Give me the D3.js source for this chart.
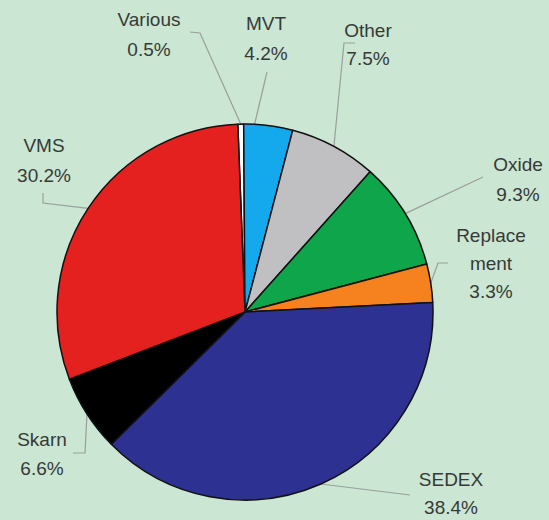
<!DOCTYPE html>
<html>
<head>
<meta charset="utf-8">
<script src="https://cdn.jsdelivr.net/npm/d3@7"></script>
<style>
html,body{margin:0;padding:0;background:#cbe6d3;}
svg{display:block;}
</style>
</head>
<body>
<svg id="chart" width="549" height="520"></svg>
<script>
// ---- data ----
const categories = ["Various", "MVT", "Other", "Oxide", "Replacement", "SEDEX", "Skarn", "VMS"];
const values = [0.5, 4.2, 7.5, 9.3, 3.3, 38.4, 6.6, 30.2];
const labelLines = [["Various","0.5%"],["MVT","4.2%"],["Other","7.5%"],["Oxide","9.3%"],["Replace","ment","3.3%"],["SEDEX","38.4%"],["Skarn","6.6%"],["VMS","30.2%"]];

// ---- styles / layout ----
const colors = ["#ffffff", "#14a9ec", "#c0c0c2", "#0ea54b", "#f5821f", "#2c3192", "#000000", "#e4211f"];
const cx = 245, cy = 312, R = 188;
const startDeg = -2.2;
const layout = [
  {x:149, y:[26,56], pts:[[190,32],[200,33]], frac:0.5},
  {x:266, y:[30,60], pts:[[267,72]], frac:0.22},
  {x:368, y:[37,65], pts:[[355,43],[344,43]], frac:0.5},
  {x:518, y:[171,201], pts:[[483,177]], frac:0.5},
  {x:491, y:[242,270,298], pts:[[448,263],[438,263]], frac:0.5},
  {x:451, y:[486,514], pts:[[410,495]], frac:0.5},
  {x:42, y:[446,475], pts:[[73,453],[85,453]], frac:0.5},
  {x:44, y:[152,182], pts:[[43,193],[43,203]], frac:0.5}
];

const svg = d3.select("#chart");
const rad = d => d * Math.PI / 180;

const pie = d3.pie().sort(null).value(d => d.v)
  .startAngle(rad(startDeg)).endAngle(rad(startDeg) + 2 * Math.PI);
const arcs = pie(values.map((v, i) => ({v, i})));
const arc = d3.arc().innerRadius(0).outerRadius(R);

// leader lines
const gl = svg.append("g");
arcs.forEach((a, i) => {
  const L = layout[i];
  const ang = a.startAngle + (a.endAngle - a.startAngle) * L.frac;
  const edge = [cx + R * Math.sin(ang), cy - R * Math.cos(ang)];
  const pts = L.pts.concat([edge]);
  gl.append("path")
    .attr("d", d3.line()(pts))
    .attr("fill", "none")
    .attr("stroke", "#9a9f9b")
    .attr("stroke-width", 1.2);
});

// slices
svg.append("g").attr("transform", `translate(${cx},${cy})`)
  .selectAll("path").data(arcs).join("path")
  .attr("d", arc)
  .attr("fill", d => colors[d.data.i])
  .attr("stroke", "#111")
  .attr("stroke-width", 1.5)
  .attr("stroke-linejoin", "round");

// labels
const gt = svg.append("g")
  .attr("font-family", "'Liberation Sans', Arial, sans-serif")
  .attr("font-size", 19)
  .attr("fill", "#363a37")
  .attr("text-anchor", "middle");
labelLines.forEach((lines, i) => {
  const L = layout[i];
  lines.forEach((t, j) => {
    gt.append("text").attr("x", L.x).attr("y", L.y[j]).text(t);
  });
});
</script>
</body>
</html>
